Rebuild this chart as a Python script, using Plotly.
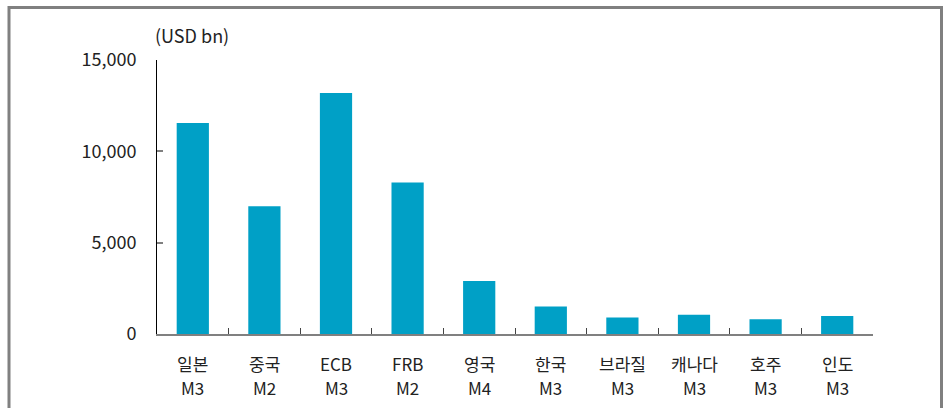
import plotly.graph_objects as go

names = ["일본", "중국", "ECB", "FRB", "영국", "한국", "브라질", "캐나다", "호주", "인도"]
codes = ["M3", "M2", "M3", "M2", "M4", "M3", "M3", "M3", "M3", "M3"]
values = [11550, 7000, 13200, 8300, 2900, 1500, 900, 1060, 810, 990]
y_ticks = [0, 5000, 10000, 15000]
y_tick_labels = ["0", "5,000", "10,000", "15,000"]
unit_label = "(USD bn)"

FONT = "Noto Sans CJK KR"
W, H = 943, 408
L, R, T, B = 157, 70, 60, 74
pw, ph = W - L - R, H - T - B

fig = go.Figure(go.Bar(
    x=names, y=values,
    marker=dict(color="#00A0C6", line=dict(width=0)),
    width=0.45,
))

def px_x(px):
    return (px - L) / pw

def px_y(py):
    return (H - B - py) / ph

annotations = [dict(
    text=unit_label, xref="paper", yref="paper",
    x=px_x(153), y=px_y(35), xanchor="left", yanchor="middle",
    showarrow=False, font=dict(family=FONT, size=18, color="#222222"),
)]
for n, c in zip(names, codes):
    annotations.append(dict(text=n, x=n, xref="x", y=px_y(363), yref="paper",
                            xanchor="center", yanchor="middle", showarrow=False, borderpad=0,
                            font=dict(family=FONT, size=17, color="#222222")))
    annotations.append(dict(text=c, x=n, xref="x", y=px_y(387), yref="paper",
                            xanchor="center", yanchor="middle", showarrow=False, borderpad=0,
                            font=dict(family=FONT, size=17, color="#222222")))

fig.update_layout(
    width=W, height=H,
    margin=dict(l=L, r=R, t=T, b=B, autoexpand=False),
    paper_bgcolor="white", plot_bgcolor="white",
    showlegend=False,
    font=dict(family=FONT, size=18, color="#222222"),
    xaxis=dict(
        type="category", showticklabels=False,
        range=[-0.5, len(names) - 0.5], automargin=False,
        showline=True, linecolor="#808080", linewidth=1.5,
        ticks="inside", ticklen=6, tickcolor="#444444", tickwidth=1,
        tickson="boundaries", showgrid=False, zeroline=False,
    ),
    yaxis=dict(
        range=[0, 15000], tickmode="array", tickvals=y_ticks, ticktext=y_tick_labels,
        automargin=False,
        showline=True, linecolor="#000000", linewidth=1,
        ticks="inside", ticklen=6, tickcolor="#808080", tickwidth=1.5,
        showgrid=False, zeroline=False,
        tickfont=dict(family=FONT, size=18, color="#222222"),
        ticklabelstandoff=16,
    ),
    annotations=annotations,
    shapes=[dict(
        type="rect", xref="paper", yref="paper",
        x0=px_x(9), x1=px_x(941.5), y0=px_y(415), y1=px_y(7.5),
        line=dict(color="#808080", width=3), fillcolor="rgba(0,0,0,0)", layer="above",
    )],
)

fig.write_html("out.html", config={"displayModeBar": False},
               post_script="document.body.style.margin='0px';document.body.style.padding='0px';document.body.style.overflow='hidden';")
